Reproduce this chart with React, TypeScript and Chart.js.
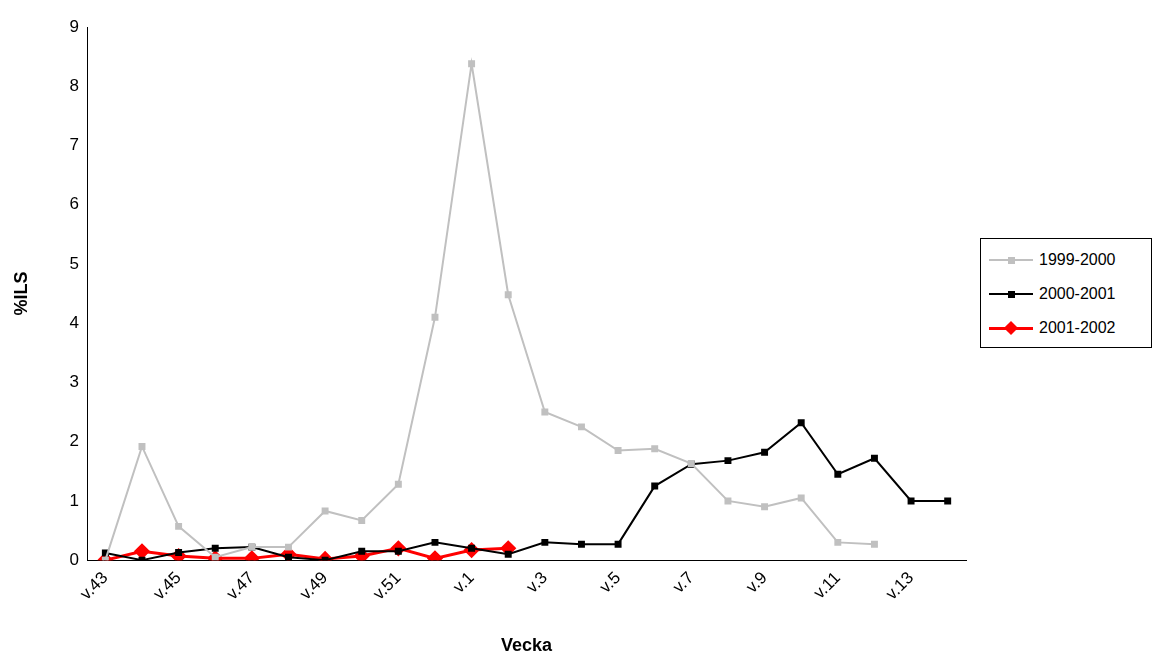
import Chart from 'chart.js/auto';
import React, { useRef, useEffect } from 'react';

const weeks = ['v.43','v.44','v.45','v.46','v.47','v.48','v.49','v.50','v.51','v.52','v.1','v.2','v.3','v.4','v.5','v.6','v.7','v.8','v.9','v.10','v.11','v.12','v.13','v.14'];
const s1999 = [0, 1.92, 0.57, 0.05, 0.22, 0.22, 0.83, 0.67, 1.28, 4.1, 8.38, 4.48, 2.5, 2.25, 1.85, 1.88, 1.63, 1.0, 0.9, 1.05, 0.3, 0.27, null, null];
const s2000 = [0.12, 0.0, 0.13, 0.2, 0.22, 0.05, 0.0, 0.15, 0.15, 0.3, 0.2, 0.1, 0.3, 0.27, 0.27, 1.25, 1.62, 1.68, 1.82, 2.32, 1.45, 1.72, 1.0, 1.0];
const s2001 = [0, 0.15, 0.07, 0.03, 0.03, 0.1, 0.02, 0.07, 0.2, 0.03, 0.17, 0.2];

const font = 'Arial, "Liberation Sans", sans-serif';

export default function App() {
  const ref = useRef<HTMLCanvasElement | null>(null);
  useEffect(() => {
    document.body.style.margin = '0';
    const chart = new Chart(ref.current!, {
      type: 'line',
      data: {
        labels: weeks,
        datasets: [
          { label: '1999-2000', data: s1999, borderColor: '#c0c0c0', backgroundColor: '#c0c0c0', borderWidth: 2, pointStyle: 'rect', pointRadius: 3.5, tension: 0 },
          { label: '2000-2001', data: s2000, borderColor: '#000', backgroundColor: '#000', borderWidth: 2, pointStyle: 'rect', pointRadius: 3.5, tension: 0 },
          { label: '2001-2002', data: s2001, borderColor: '#ff0000', backgroundColor: '#ff0000', borderWidth: 3, pointStyle: 'rectRot', pointRadius: 6, tension: 0 },
        ],
      },
      options: {
        animation: false,
        responsive: false,
        layout: { padding: { top: 27, right: 9, left: 7, bottom: 4 } },
        plugins: { legend: { display: false }, tooltip: { enabled: false } },
        scales: {
          x: {
            offset: true,
            grid: { display: false, drawTicks: true, tickLength: 5, color: '#000' },
            border: { color: '#000', width: 1 },
            ticks: {
              autoSkip: false, maxRotation: 45, minRotation: 45, color: '#000',
              font: { family: font, size: 17 },
              callback: (v, i) => (i % 2 === 0 ? weeks[i] : ''),
            },
            title: { display: true, text: 'Vecka', color: '#000', padding: { top: 28, bottom: 0 }, font: { family: font, size: 18, weight: 'bold' } },
          },
          y: {
            min: 0, max: 9,
            grid: { display: false, drawTicks: true, tickLength: 5, color: '#000' },
            border: { color: '#000', width: 1 },
            ticks: { stepSize: 1, color: '#000', font: { family: font, size: 17 } },
            title: { display: true, text: '%ILS', color: '#000', padding: { top: 4, bottom: 34 }, font: { family: font, size: 18, weight: 'bold' } },
          },
        },
      },
    });
    return () => chart.destroy();
  }, []);

  const item = (label: string, color: string, w: number, diamond: boolean) => (
    <div style={{ display: 'flex', alignItems: 'center', height: 34 }}>
      <div style={{ position: 'relative', width: 44, height: 12, marginRight: 6 }}>
        <div style={{ position: 'absolute', left: 0, right: 0, top: 6 - w / 2, height: w, background: color }} />
        <div style={{ position: 'absolute', left: diamond ? 17 : 19, top: diamond ? 1 : 3, width: diamond ? 10 : 7, height: diamond ? 10 : 7, background: color, transform: diamond ? 'rotate(45deg)' : undefined }} />
      </div>
      <span>{label}</span>
    </div>
  );

  return (
    <div style={{ position: 'relative', width: 1154, height: 661, background: '#fff' }}>
      <canvas ref={ref} width={975} height={661} />
      <div style={{ position: 'absolute', left: 980, top: 238, width: 172, height: 110, border: '1px solid #000', boxSizing: 'border-box', padding: '4px 8px', fontFamily: font, fontSize: 16 }}>
        {item('1999-2000', '#c0c0c0', 2, false)}
        {item('2000-2001', '#000', 2, false)}
        {item('2001-2002', '#ff0000', 3, true)}
      </div>
    </div>
  );
}
